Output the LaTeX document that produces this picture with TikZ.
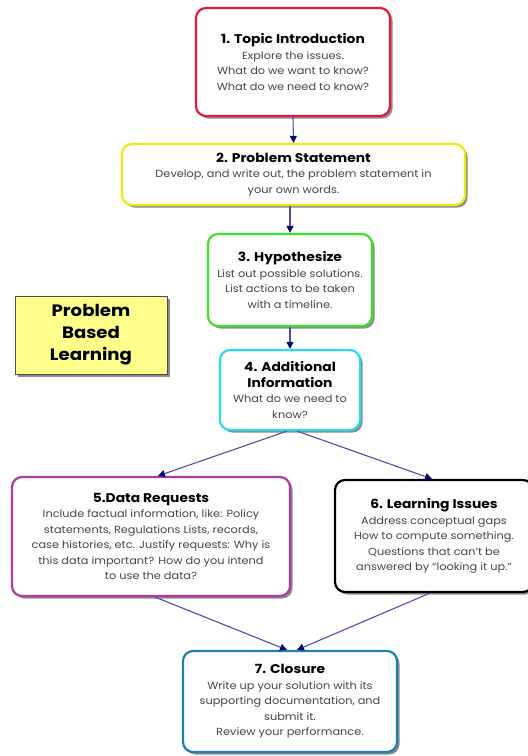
\documentclass[tikz,border=0pt]{standalone}
\usepackage{fontspec}
\setmainfont{Poppins}[FakeStretch=1.1]
\usetikzlibrary{arrows.meta,shadows}
\definecolor{boxred}{RGB}{232,24,56}
\definecolor{boxyellow}{RGB}{236,236,20}
\definecolor{boxgreen}{RGB}{60,226,40}
\definecolor{boxcyan}{RGB}{40,220,240}
\definecolor{boxpurple}{RGB}{176,56,168}
\definecolor{boxteal}{RGB}{30,128,176}
\definecolor{notefill}{RGB}{255,255,140}
\definecolor{linkblue}{RGB}{80,80,170}
\definecolor{tipnavy}{RGB}{10,10,110}
\definecolor{bodygray}{RGB}{70,70,70}
\newcommand{\stagetitle}[1]{{\fontsize{12.6}{16}\selectfont\bfseries\color{black}#1}\\}

\begin{document}
\begin{tikzpicture}[x=1pt,y=-1pt]
\tikzstyle{every node}=[font=\fontsize{10.3}{15.5}\selectfont]
\tikzstyle{stage}=[draw,line width=2.2pt,rounded corners=10pt,fill=white,align=center,inner sep=2pt,
  drop shadow={shadow xshift=2.5pt,shadow yshift=-2.5pt,fill=black!45,opacity=1}]
\tikzstyle{link}=[draw=linkblue,line width=1.1pt,-{Triangle[length=7pt,width=7pt,fill=tipnavy,color=tipnavy]}]
\useasboundingbox (0,0) rectangle (528,756);
\fill[white] (0,0) rectangle (528,756);

% stages
\node[stage,draw=boxred,minimum width=194pt,minimum height=108pt,text=bodygray] (intro) at (293,62)
  {\stagetitle{1. Topic Introduction}Explore the issues.\\What do we want to know?\\What do we need to know?};
\node[stage,draw=boxyellow,minimum width=343pt,minimum height=61pt,text=bodygray] (statement) at (293.5,174.5)
  {\stagetitle{2. Problem Statement}Develop, and write out, the problem statement in\\your own words.};
\node[stage,draw=boxgreen,minimum width=164pt,minimum height=92pt,text=bodygray] (hypo) at (290,280)
  {\stagetitle{3. Hypothesize}List out possible solutions.\\List actions to be taken\\with a timeline.};
\node[stage,draw=boxcyan,minimum width=140pt,minimum height=80pt,text=bodygray] (addinfo) at (290,390)
  {\stagetitle{4. Additional}\stagetitle{Information}What do we need to\\know?};
\node[stage,draw=boxpurple,minimum width=278pt,minimum height=119pt,text=bodygray] (data) at (151,536.5)
  {\stagetitle{5.Data Requests}Include factual information, like: Policy\\statements, Regulations Lists, records,\\case histories, etc. Justify requests: Why is\\this data important? How do you intend\\to use the data?};
\node[stage,draw=black,minimum width=198pt,minimum height=112pt,text=bodygray] (issues) at (434,536)
  {\stagetitle{6. Learning Issues}Address conceptual gaps\\How to compute something.\\Questions that can't be\\answered by ``looking it up.''};
\node[stage,draw=boxteal,minimum width=214pt,minimum height=101pt,text=bodygray] (closure) at (290,701.5)
  {\stagetitle{7. Closure}Write up your solution with its\\supporting documentation, and\\submit it.\\Review your performance.};

% title note
\node[draw=black!70,line width=1pt,fill=notefill,minimum width=152pt,minimum height=78pt,align=center,
  font=\fontsize{16.5}{22}\selectfont\bfseries,drop shadow={shadow xshift=2.5pt,shadow yshift=-2.5pt,fill=black!45,opacity=1}]
  (pbl) at (91,335) {Problem\\Based\\Learning};

% links
\draw[link] (intro.south) -- (statement.north);
\draw[link] (statement.south -| hypo.north) -- (hypo.north);
\draw[link] (hypo.south) -- (addinfo.north);
\draw[link] ([xshift=-3pt]addinfo.south) -- ([xshift=7pt]data.north);
\draw[link] ([xshift=7pt]addinfo.south) -- ([xshift=-2pt]issues.north);
\draw[link] ([xshift=4pt]data.south) -- ([xshift=-3pt]closure.north);
\draw[link] ([xshift=-4pt]issues.south) -- ([xshift=7pt]closure.north);

\end{tikzpicture}
\end{document}
